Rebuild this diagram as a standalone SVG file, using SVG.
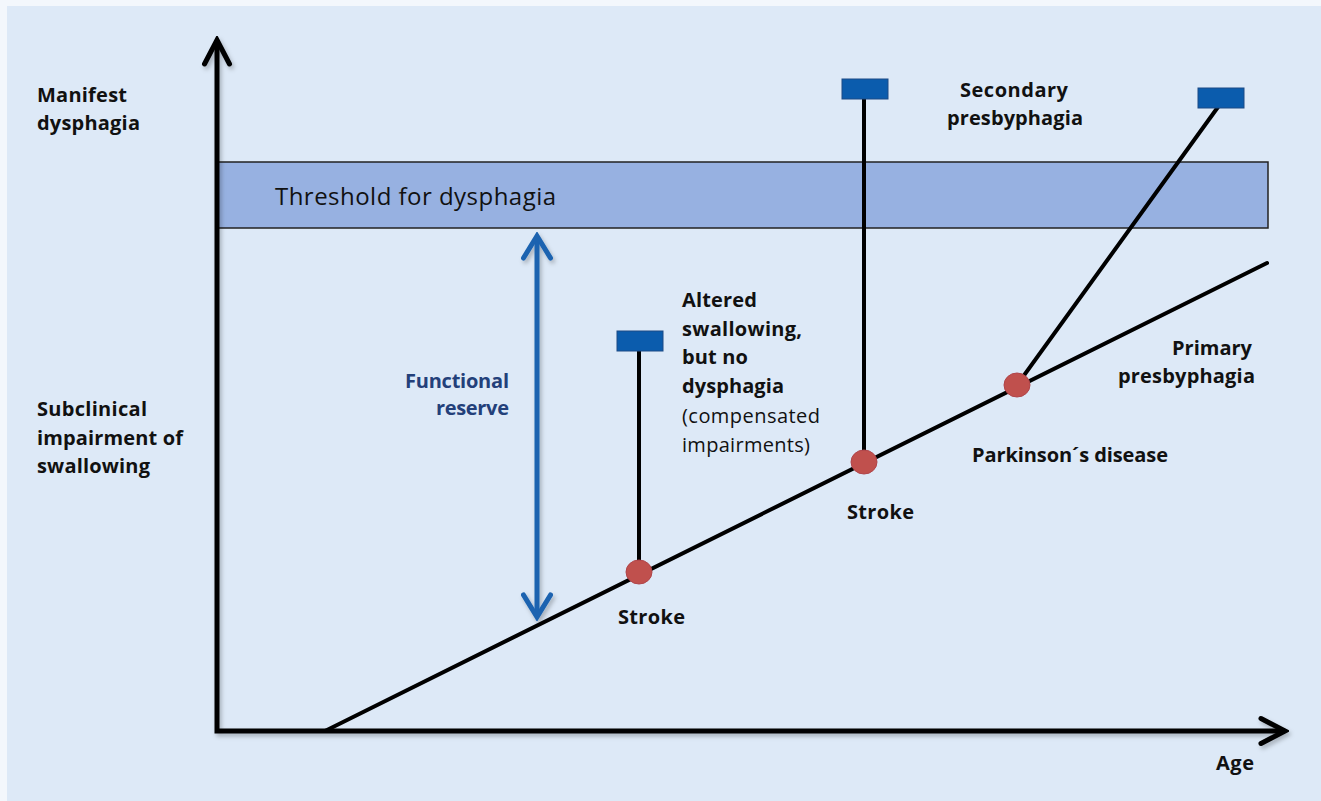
<svg xmlns="http://www.w3.org/2000/svg" width="1321" height="801" viewBox="0 0 1321 801">
  <defs>
    <style>
      .lbl { font-family: "Open Sans", "Liberation Sans", sans-serif; font-weight: 700; font-size: 20px; fill: #111; }
      .reg { font-family: "Open Sans", "Liberation Sans", sans-serif; font-weight: 400; font-size: 20px; fill: #111; }
      .big { font-size: 24px; }
      .blue { fill: #23407a; }
      .line { stroke: #000; stroke-width: 4; fill: none; stroke-linecap: round; }
      .axis { stroke: #000; stroke-width: 5; fill: none; }
      .cap { fill: #0b5cad; stroke: #1d4a85; stroke-width: 1; }
      .dot { fill: #c0504d; stroke: #b0454a; stroke-width: 1; }
    </style>
    <filter id="shadow" x="-20%" y="-20%" width="140%" height="140%">
      <feDropShadow dx="2" dy="3" stdDeviation="2" flood-color="#000" flood-opacity="0.25"/>
    </filter>
    <marker id="chevK" viewBox="-30 -16 34 32" refX="0" refY="0" markerWidth="34" markerHeight="32" markerUnits="userSpaceOnUse" orient="auto-start-reverse">
      <path d="M-24,-12.5 L0,0 L-24,12.5" fill="none" stroke="#000" stroke-width="5" stroke-linecap="round" stroke-linejoin="miter"/>
    </marker>
    <marker id="chevB" viewBox="-30 -16 34 32" refX="0" refY="0" markerWidth="34" markerHeight="32" markerUnits="userSpaceOnUse" orient="auto-start-reverse">
      <path d="M-22,-13.5 L0,0 L-22,13.5" fill="none" stroke="#1b63b0" stroke-width="5" stroke-linecap="round" stroke-linejoin="miter"/>
    </marker>
  </defs>

  <rect x="0" y="0" width="1321" height="801" fill="#f3f7fc"/>
  <rect x="7" y="6" width="1314" height="795" fill="#dde9f7"/>

  <g id="threshold">
    <rect x="217" y="162" width="1051" height="66" fill="#97b1e1" stroke="#222" stroke-width="1.5"/>
    <text class="reg big" x="275" y="205" textLength="281">Threshold for dysphagia</text>
  </g>

  <g id="connectors">
    <line class="line" x1="325" y1="731" x2="1267" y2="263"/>
    <line class="line" x1="639" y1="572" x2="639" y2="350"/>
    <line class="line" x1="864" y1="462" x2="864" y2="98"/>
    <line class="line" x1="1017" y1="385" x2="1218" y2="107"/>
    <g filter="url(#shadow)">
      <polyline class="axis" points="217,40 217,731 1285,731" marker-start="url(#chevK)" marker-end="url(#chevK)"/>
      <line x1="537" y1="236" x2="537" y2="617" stroke="#1b63b0" stroke-width="5" marker-start="url(#chevB)" marker-end="url(#chevB)"/>
    </g>
  </g>

  <g id="cap1"><rect class="cap" x="617" y="331" width="46" height="20"/></g>
  <g id="cap2"><rect class="cap" x="842" y="79" width="46" height="20"/></g>
  <g id="cap3"><rect class="cap" x="1198" y="88" width="46" height="20"/></g>

  <g id="dot-stroke1"><ellipse class="dot" cx="639" cy="572" rx="13" ry="12"/></g>
  <g id="dot-stroke2"><ellipse class="dot" cx="864" cy="462" rx="13" ry="12"/></g>
  <g id="dot-parkinson"><ellipse class="dot" cx="1017" cy="385" rx="13" ry="12"/></g>

  <g id="label-manifest">
    <text class="lbl" x="37" y="102" textLength="90">Manifest</text>
    <text class="lbl" x="37" y="130" textLength="103">dysphagia</text>
  </g>
  <g id="label-subclinical">
    <text class="lbl" x="37" y="416" textLength="110">Subclinical</text>
    <text class="lbl" x="37" y="445" textLength="146">impairment of</text>
    <text class="lbl" x="37" y="473" textLength="113">swallowing</text>
  </g>
  <g id="label-reserve">
    <text class="lbl blue" x="405" y="388" textLength="104">Functional</text>
    <text class="lbl blue" x="436" y="415" textLength="73">reserve</text>
  </g>
  <g id="label-altered">
    <text class="lbl" x="682" y="307" textLength="75">Altered</text>
    <text class="lbl" x="682" y="336" textLength="120">swallowing,</text>
    <text class="lbl" x="682" y="364" textLength="66">but no</text>
    <text class="lbl" x="682" y="393" textLength="102">dysphagia</text>
    <text class="reg" x="682" y="423" textLength="138">(compensated</text>
    <text class="reg" x="682" y="452" textLength="128">impairments)</text>
  </g>
  <g id="label-secondary">
    <text class="lbl" x="960" y="97" textLength="108">Secondary</text>
    <text class="lbl" x="947" y="125" textLength="136">presbyphagia</text>
  </g>
  <g id="label-primary">
    <text class="lbl" x="1172" y="355" textLength="80">Primary</text>
    <text class="lbl" x="1118" y="383" textLength="137">presbyphagia</text>
  </g>
  <g id="label-parkinson"><text class="lbl" x="972" y="462" textLength="196">Parkinson´s disease</text></g>
  <g id="label-stroke2"><text class="lbl" x="847" y="519" textLength="67">Stroke</text></g>
  <g id="label-stroke1"><text class="lbl" x="618" y="624" textLength="67">Stroke</text></g>
  <g id="label-age"><text class="lbl" x="1216" y="770" textLength="38">Age</text></g>
</svg>
